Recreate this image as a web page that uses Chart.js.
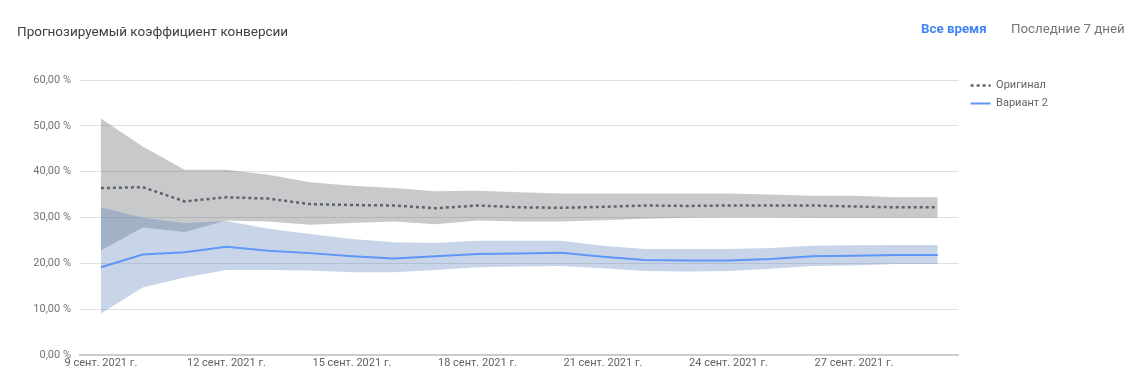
<!DOCTYPE html>
<html>
<head>
<meta charset="utf-8">
<script src="https://cdn.jsdelivr.net/npm/chart.js@4.4.0/dist/chart.umd.min.js"></script>
<style>
html,body{margin:0;padding:0;background:#fff;overflow:hidden;}
#wrap{position:relative;width:1138px;height:382px;}
#chart{position:absolute;left:0;top:0;}
.txt{position:absolute;font-family:Roboto,"Noto Sans",sans-serif;white-space:nowrap;}
#title{left:17px;top:23px;font-size:13.5px;color:#3c4043;}
#tabAll{left:921px;top:21px;font-size:13.3px;font-weight:bold;color:#4285f4;}
#tab7{left:1011px;top:21px;font-size:13.3px;color:#757575;}
</style>
</head>
<body>
<div id="wrap">
  <canvas id="chart" width="1138" height="382"></canvas>
  <div class="txt" id="title">Прогнозируемый коэффициент конверсии</div>
  <div class="txt" id="tabAll">Все время</div>
  <div class="txt" id="tab7">Последние 7 дней</div>
</div>
<script>
const categories = ['9 сент. 2021 г.','10 сент. 2021 г.','11 сент. 2021 г.','12 сент. 2021 г.','13 сент. 2021 г.','14 сент. 2021 г.','15 сент. 2021 г.','16 сент. 2021 г.','17 сент. 2021 г.','18 сент. 2021 г.','19 сент. 2021 г.','20 сент. 2021 г.','21 сент. 2021 г.','22 сент. 2021 г.','23 сент. 2021 г.','24 сент. 2021 г.','25 сент. 2021 г.','26 сент. 2021 г.','27 сент. 2021 г.','28 сент. 2021 г.','29 сент. 2021 г.'];
const seriesNames = ['Оригинал', 'Вариант 2'];
const original     = [36.4, 36.6, 33.5, 34.4, 34.1, 32.9, 32.7, 32.6, 32.0, 32.6, 32.2, 32.1, 32.3, 32.6, 32.5, 32.6, 32.6, 32.6, 32.4, 32.2, 32.2];
const originalHigh = [51.6, 45.5, 40.4, 40.4, 39.3, 37.7, 36.9, 36.4, 35.7, 35.8, 35.5, 35.2, 35.2, 35.2, 35.2, 35.2, 35.0, 34.7, 34.7, 34.4, 34.4];
const originalLow  = [22.8, 27.8, 26.8, 29.3, 29.1, 28.4, 28.8, 29.1, 28.5, 29.3, 29.1, 29.1, 29.4, 29.7, 29.9, 30.0, 30.0, 29.9, 29.9, 29.9, 29.9];
const variant      = [19.1, 21.9, 22.4, 23.6, 22.7, 22.2, 21.5, 21.0, 21.5, 22.0, 22.1, 22.3, 21.4, 20.7, 20.6, 20.6, 20.9, 21.5, 21.6, 21.8, 21.8];
const variantHigh  = [32.2, 29.9, 28.8, 29.2, 27.5, 26.4, 25.3, 24.6, 24.4, 24.9, 24.9, 24.9, 23.8, 23.1, 23.1, 23.1, 23.3, 23.8, 23.9, 24.0, 24.0];
const variantLow   = [9.0, 14.7, 16.9, 18.5, 18.5, 18.4, 18.0, 18.0, 18.5, 19.1, 19.3, 19.4, 18.9, 18.3, 18.2, 18.3, 18.8, 19.4, 19.5, 19.8, 19.8];
const yTicks = [0, 10, 20, 30, 40, 50, 60];
const xTickEvery = 3;

const FONT = 'Roboto, "Noto Sans", sans-serif';
const band = {pointRadius: 0, borderWidth: 0, tension: 0};

const legendShift = {
  id: 'legendShift',
  afterLayout(chart) {
    if (chart.legend) { chart.legend.left += 5; chart.legend.right += 5; }
  }
};

new Chart(document.getElementById('chart'), {
  type: 'line',
  plugins: [legendShift],
  data: {
    labels: categories,
    datasets: [
      {label: seriesNames[0], data: original, borderColor: '#5f6368', backgroundColor: '#5f6368', borderWidth: 2.5, borderDash: [3, 3], pointRadius: 0, fill: false, tension: 0},
      {label: seriesNames[1], data: variant, borderColor: '#5e97f6', backgroundColor: '#5e97f6', borderWidth: 2, pointRadius: 0, fill: false, tension: 0},
      Object.assign({label: 'vh', data: variantHigh, fill: '+1', backgroundColor: 'rgba(88,128,188,0.33)', borderColor: 'rgba(0,0,0,0)'}, band),
      Object.assign({label: 'vl', data: variantLow, fill: false, borderColor: 'rgba(0,0,0,0)'}, band),
      Object.assign({label: 'oh', data: originalHigh, fill: '+1', backgroundColor: 'rgba(98,101,106,0.35)', borderColor: 'rgba(0,0,0,0)'}, band),
      Object.assign({label: 'ol', data: originalLow, fill: false, borderColor: 'rgba(0,0,0,0)'}, band)
    ]
  },
  options: {
    responsive: false,
    animation: false,
    layout: {padding: {left: 0, right: 85, top: 73, bottom: 10}},
    plugins: {
      tooltip: {enabled: false},
      title: {display: true, text: ' ', padding: 0, font: {size: 7, lineHeight: '7px'}},
      legend: {
        position: 'right',
        align: 'start',
        labels: {
          filter: (item) => item.datasetIndex < 2,
          generateLabels: (chart) => {
            const items = Chart.defaults.plugins.legend.labels.generateLabels(chart);
            items.forEach(it => {
              const ds = chart.data.datasets[it.datasetIndex];
              it.lineDash = ds.borderDash || [];
              it.lineWidth = ds.borderWidth;
              it.strokeStyle = ds.borderColor;
            });
            return items;
          },
          usePointStyle: true,
          pointStyle: 'line',
          pointStyleWidth: 20,
          padding: 7,
          color: '#5f6368',
          font: {family: FONT, size: 11}
        }
      }
    },
    scales: {
      x: {
        offset: true,
        grid: {display: false, drawTicks: false},
        border: {display: true, color: '#cccccc', width: 2},
        ticks: {
          autoSkip: false, maxRotation: 0, padding: 2,
          color: '#616161', font: {family: FONT, size: 11},
          callback: function(v, i) { return i % xTickEvery === 0 ? categories[i] : ''; }
        }
      },
      y: {
        min: yTicks[0], max: yTicks[yTicks.length - 1],
        afterFit: (s) => { s.width = 80; },
        afterBuildTicks: (s) => { s.ticks = yTicks.map(v => ({value: v})); },
        grid: {color: '#e0e0e0', drawTicks: false},
        border: {display: false},
        ticks: {
          padding: 9, color: '#757575', font: {family: FONT, size: 11},
          callback: (v) => v.toFixed(2).replace('.', ',') + ' %'
        }
      }
    }
  }
});
</script>
</body>
</html>
